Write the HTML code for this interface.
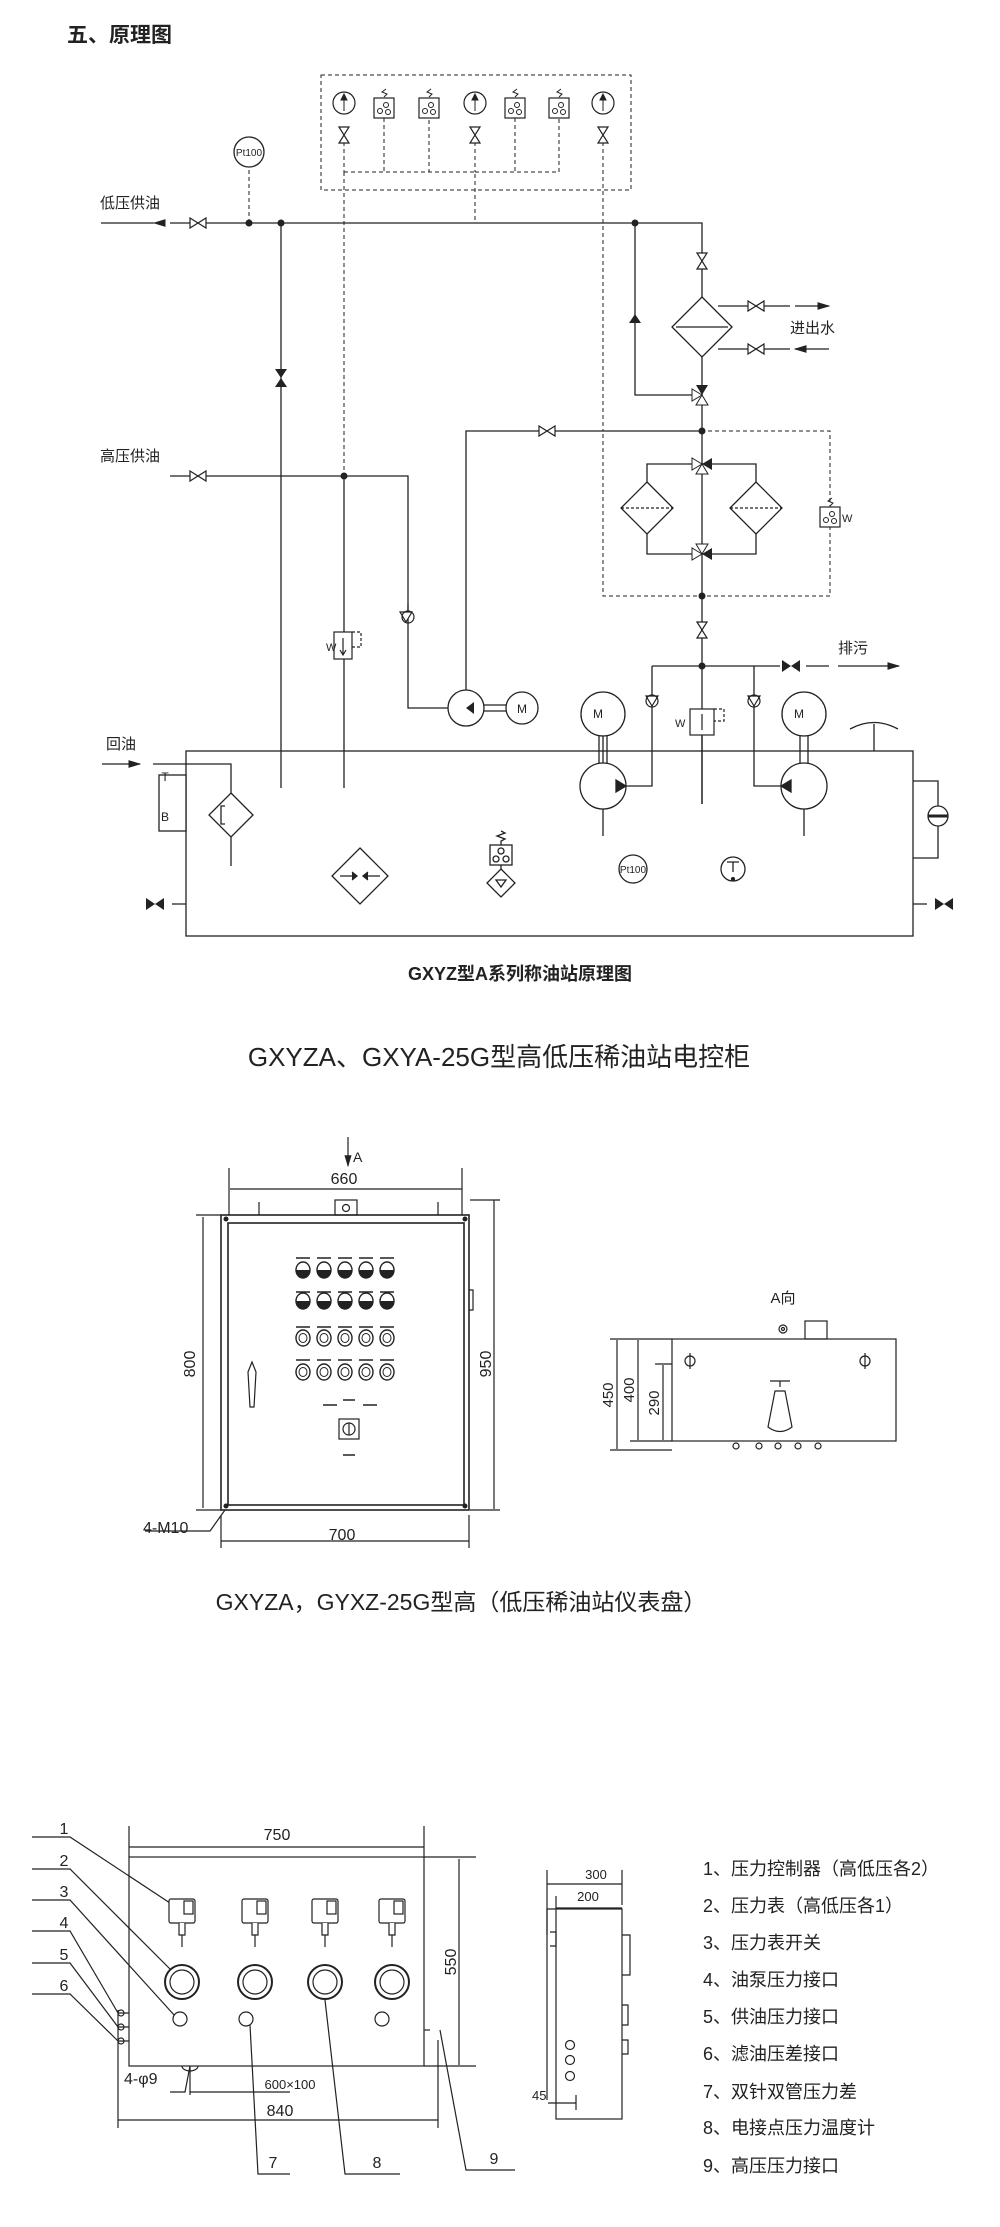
<!DOCTYPE html>
<html><head><meta charset="utf-8"><style>
html,body{margin:0;padding:0;background:#fff}
svg{display:block}
text{font-family:"Liberation Sans","Noto Sans CJK SC",sans-serif;fill:#222}
</style></head><body>
<svg width="1000" height="2227" viewBox="0 0 1000 2227" xmlns="http://www.w3.org/2000/svg">
<defs>
<marker id="ar" markerWidth="10" markerHeight="6" refX="9" refY="3" orient="auto"><path d="M0,0 L10,3 L0,6 Z" fill="#222"/></marker>
<g id="valve"><path d="M-8,-5 L8,5 L8,-5 L-8,5 Z" fill="#fff" stroke="#222" stroke-width="1.2"/></g>
<g id="vvalve"><path d="M-5,-8 L5,8 L-5,8 L5,-8 Z" fill="#fff" stroke="#222" stroke-width="1.2"/></g>
<g id="bvalve"><path d="M-9,-6 L9,6 L9,-6 L-9,6 Z" fill="#222"/></g>
<g id="gauge"><circle r="11" fill="#fff" stroke="#222" stroke-width="1.2"/><path d="M0,8 V-8 M-3,-3 L0,-9 L3,-3Z" stroke="#222" fill="#222"/></g>
<g id="psw"><rect x="-10" y="-10" width="20" height="20" fill="#fff" stroke="#222" stroke-width="1.2"/><circle cx="-4" cy="3" r="2.5" fill="none" stroke="#222"/><circle cx="4" cy="4" r="2.5" fill="none" stroke="#222"/><circle cx="2" cy="-3" r="2.5" fill="none" stroke="#222"/><path d="M0,-11 l3,-3 l-5,-2 l4,-3" fill="none" stroke="#222"/></g>
<g id="light"><ellipse rx="7" ry="8" fill="#fff" stroke="#222" stroke-width="1.4"/><path d="M-7,0 A7,8 0 0 0 7,0 Z" fill="#222"/></g>
<g id="ring"><ellipse rx="7" ry="8" fill="#fff" stroke="#222" stroke-width="1.4"/><ellipse rx="4" ry="4.5" fill="none" stroke="#222"/></g>
</defs>
<g stroke="#222" stroke-width="1.3" fill="none">
<rect x="321" y="75" width="310" height="115" stroke-dasharray="4,3" stroke-width="1"/>
<path d="M344,142 V172 M384,118 V172 H429 V118 M475,142 V172 M515,118 V172 H559 V118 M603,142 V172 M344,172 H475 V223 M475,172 H559" stroke-dasharray="4,3" stroke-width="1"/>
<path d="M344,172 V476 M603,142 V431" stroke-dasharray="4,3" stroke-width="1"/>
<path d="M249,163 V223" stroke-dasharray="4,3" stroke-width="1"/>
<path d="M170,223 H702 V804" />
<path d="M102,223 H155" marker-start="url(#ar)" transform="rotate(180 128 223)"/>
<path d="M281,223 V788"/>
<path d="M635,223 V395 H702"/>
<path d="M702,297 L732,327 L702,357 L672,327 Z" fill="#fff"/>
<path d="M676,327 H728"/>
<path d="M718,306 H790 M718,349 H790"/>
<path d="M795,306 H829" marker-end="url(#ar)"/>
<path d="M829,349 H795" marker-end="url(#ar)"/>
<path d="M170,476 H408 V708 H448"/>
<path d="M344,476 V788"/>
<path d="M466,708 V431 H702"/>
<circle cx="466" cy="708" r="18" fill="#fff"/>
<path d="M484,705 H506 M484,711 H506"/>
<circle cx="522" cy="708" r="16" fill="#fff"/>
<rect x="603" y="431" width="227" height="165" stroke-dasharray="4,3" stroke-width="1"/>
<path d="M647,464 H756 V554 H647 Z"/>
<path d="M647,482 L673,508 L647,534 L621,508 Z" fill="#fff"/><path d="M621,508 H673" stroke-dasharray="3,2"/>
<path d="M756,482 L782,508 L756,534 L730,508 Z" fill="#fff"/><path d="M730,508 H782" stroke-dasharray="3,2"/>
<path d="M652,666 H780 M652,666 V786 H626"/>
<path d="M754,666 V786 H781"/>
<path d="M806,666 H829"/>
<path d="M838,666 H899" marker-end="url(#ar)"/>
<rect x="186" y="751" width="727" height="185"/>
<circle cx="603" cy="786" r="23" fill="#fff"/><path d="M603,809 V836 M603,763 V736"/>
<circle cx="603" cy="714" r="22" fill="#fff"/><path d="M599,736 V763 M607,736 V763"/>
<circle cx="804" cy="786" r="23" fill="#fff"/><path d="M804,809 V836"/>
<circle cx="804" cy="714" r="22" fill="#fff"/><path d="M800,736 V763 M808,736 V763"/>
<path d="M626,786 l-10,-6 v12 Z M781,786 l10,-6 v12 Z" fill="#222"/>
<path d="M702,736 V804"/>
<path d="M102,764 H140" marker-end="url(#ar)"/>
<path d="M153,764 H231 V793"/>
<path d="M231,793 L253,815 L231,837 L209,815 Z" fill="#fff"/><path d="M225,806 h-4 v18 h4" /><path d="M231,837 V866"/>
<rect x="159" y="775" width="27" height="56" fill="#fff"/>
<path d="M360,848 L388,876 L360,904 L332,876 Z"/><path d="M340,876 h14 M380,876 h-14"/><path d="M352,872 l5,4 l-5,4 M368,872 l-5,4 l5,4" fill="#222"/>
<rect x="490" y="845" width="22" height="20" fill="#fff"/><circle cx="501" cy="851" r="3"/><circle cx="496" cy="859" r="3"/><circle cx="506" cy="859" r="3"/>
<path d="M501,845 v-4 l4,-2 l-8,-3 l8,-3 l-4,-2"/>
<path d="M501,865 v4 M501,869 L515,883 L501,897 L487,883 Z"/><path d="M496,880 h10 l-5,7 Z" />
<circle cx="633" cy="869" r="14"/>
<circle cx="733" cy="869" r="12"/><path d="M727,862 h12 M733,862 v10"/><circle cx="733" cy="879" r="1.5" fill="#222"/>
<path d="M186,904 H172 M913,904 H927"/>
<path d="M913,781 H938 V858 H913"/><circle cx="938" cy="816" r="10" fill="#fff"/><path d="M928,816 H948" stroke-width="3"/>
<path d="M874,724 V751 M850,729 Q874,716 898,729"/>
<circle cx="249" cy="152" r="15" fill="#fff"/>
</g>
<use href="#valve" x="198" y="223"/><use href="#valve" x="198" y="476"/><use href="#valve" x="547" y="431"/>
<use href="#valve" x="756" y="306"/><use href="#valve" x="756" y="349"/>
<use href="#vvalve" x="344" y="135"/><use href="#vvalve" x="475" y="135"/><use href="#vvalve" x="603" y="135"/>
<use href="#vvalve" x="702" y="261"/><use href="#vvalve" x="702" y="630"/>
<use href="#gauge" x="344" y="103"/><use href="#gauge" x="475" y="103"/><use href="#gauge" x="603" y="103"/>
<use href="#psw" x="384" y="108"/><use href="#psw" x="429" y="108"/><use href="#psw" x="515" y="108"/><use href="#psw" x="559" y="108"/>
<use href="#psw" x="830" y="517"/>
<use href="#bvalve" x="791" y="666"/>
<use href="#bvalve" x="155" y="904"/><use href="#bvalve" x="944" y="904"/>
<g fill="#222">
<path d="M281,378 l-6,-9 h12 Z M281,378 l-6,9 h12 Z"/>
<path d="M635,314 l-6,9 h12 Z M629,323 h12"/>
<path d="M702,395 l-6,-10 h12Z" /><path d="M702,395 l-6,10 h12Z" fill="#fff" stroke="#222"/><path d="M702,395 l-10,-6 v12Z" fill="#fff" stroke="#222"/>
<path d="M702,464 l-10,-6 v12Z" fill="#fff" stroke="#222"/><path d="M702,464 l10,-6 v12Z"/><path d="M702,464 l-6,10 h12Z" fill="#fff" stroke="#222"/>
<path d="M702,554 l-10,-6 v12Z" fill="#fff" stroke="#222"/><path d="M702,554 l10,-6 v12Z"/><path d="M702,554 l-6,-10 h12Z" fill="#fff" stroke="#222"/>
<circle cx="249" cy="223" r="3.5"/><circle cx="281" cy="223" r="3.5"/><circle cx="635" cy="223" r="3.5"/>
<circle cx="344" cy="476" r="3.5"/><circle cx="702" cy="431" r="3.5"/><circle cx="702" cy="596" r="3.5"/><circle cx="702" cy="666" r="3.5"/>
<path d="M466,708 l8,-6 v12Z"/>
</g>
<g stroke="#222" stroke-width="1.2" fill="#fff">
<path d="M400,612 l6,10 l6,-10 Z M408,604 V612"/><circle cx="408" cy="617" r="6" fill="none"/>
<path d="M646,696 l6,10 l6,-10 Z"/><circle cx="652" cy="701" r="6" fill="none"/>
<path d="M748,696 l6,10 l6,-10 Z"/><circle cx="754" cy="701" r="6" fill="none"/>
<rect x="334" y="632" width="18" height="27"/><path d="M343,638 V654 M340,650 l3,5 l3,-5"/><path d="M352,632 h9 v15 h-9" stroke-dasharray="3,2" fill="none"/>
<rect x="690" y="709" width="24" height="26"/><path d="M702,714 V730"/><path d="M714,709 h10 v12 h-10" stroke-dasharray="3,2" fill="none"/>
</g>
<text x="249" y="156" font-size="10" text-anchor="middle">Pt100</text>
<text x="633" y="873" font-size="10" text-anchor="middle">Pt100</text>
<text x="165" y="781" font-size="12" text-anchor="middle">T</text><text x="165" y="821" font-size="12" text-anchor="middle">B</text>
<text x="326" y="651" font-size="11">W</text><text x="675" y="727" font-size="11">W</text><text x="842" y="522" font-size="11">W</text>
<text x="598" y="718" font-size="12" text-anchor="middle">M</text><text x="799" y="718" font-size="12" text-anchor="middle">M</text><text x="522" y="713" font-size="12" text-anchor="middle">M</text>
<text x="67" y="42" font-size="21" font-weight="bold">五、原理图</text>
<text x="100" y="208" font-size="15">低压供油</text>
<text x="100" y="461" font-size="15">高压供油</text>
<text x="106" y="749" font-size="15">回油</text>
<text x="790" y="333" font-size="15">进出水</text>
<text x="838" y="653" font-size="15">排污</text>
<text x="520" y="980" font-size="18" font-weight="bold" text-anchor="middle">GXYZ型A系列称油站原理图</text>

<!-- cabinet -->
<text x="499" y="1066" font-size="26" text-anchor="middle">GXYZA、GXYA-25G型高低压稀油站电控柜</text>
<g stroke="#222" stroke-width="1.2" fill="none">
<rect x="221" y="1215" width="248" height="295" stroke-width="1.6"/>
<rect x="228" y="1223" width="236" height="282" stroke-width="1.6"/>
<rect x="335" y="1200" width="22" height="15"/><circle cx="346" cy="1208" r="3.5"/>
<path d="M259,1215 v-13 M438,1215 v-13"/>
<path d="M348,1137 V1166" marker-end="url(#ar)"/>
<path d="M230,1189 H462 M229,1168 V1215 M462,1168 V1215" />
<path d="M203,1217 V1508 M196,1215 H221 M196,1510 H221"/>
<path d="M494,1200 V1509 M470,1200 H500 M470,1510 H500"/>
<path d="M221,1541 H469 M221,1515 V1548 M469,1515 V1548"/>
<path d="M145,1531 H210 L225,1510"/>
<path d="M469,1290 h4 v20 h-4"/>
<path d="M248,1372 l4,-10 l4,10 l-2,35 h-4 Z"/>
<rect x="339" y="1419" width="20" height="20"/><circle cx="349" cy="1429" r="6"/><path d="M349,1423 V1435"/>
</g>
<g fill="#222">
<circle cx="226" cy="1219" r="2.5"/><circle cx="465" cy="1219" r="2.5"/><circle cx="226" cy="1506" r="2.5"/><circle cx="465" cy="1506" r="2.5"/>
</g>
<g stroke="#222" stroke-width="1.5" fill="none">
<path d="M296,1258 h14 M317,1258 h14 M338,1258 h14 M359,1258 h14 M380,1258 h14"/>
<path d="M296,1292 h14 M317,1292 h14 M338,1292 h14 M359,1292 h14 M380,1292 h14"/>
<path d="M296,1327 h14 M317,1327 h14 M338,1327 h14 M359,1327 h14 M380,1327 h14"/>
<path d="M296,1360 h14 M317,1360 h14 M338,1360 h14 M359,1360 h14 M380,1360 h14"/>
<path d="M323,1405 h14 M343,1400 h12 M363,1405 h14 M343,1455 h12"/>
</g>
<use href="#light" x="303" y="1270"/><use href="#light" x="324" y="1270"/><use href="#light" x="345" y="1270"/><use href="#light" x="366" y="1270"/><use href="#light" x="387" y="1270"/>
<use href="#light" x="303" y="1301"/><use href="#light" x="324" y="1301"/><use href="#light" x="345" y="1301"/><use href="#light" x="366" y="1301"/><use href="#light" x="387" y="1301"/>
<use href="#ring" x="303" y="1338"/><use href="#ring" x="324" y="1338"/><use href="#ring" x="345" y="1338"/><use href="#ring" x="366" y="1338"/><use href="#ring" x="387" y="1338"/>
<use href="#ring" x="303" y="1372"/><use href="#ring" x="324" y="1372"/><use href="#ring" x="345" y="1372"/><use href="#ring" x="366" y="1372"/><use href="#ring" x="387" y="1372"/>
<text x="353" y="1162" font-size="14">A</text>
<text x="344" y="1184" font-size="16" text-anchor="middle">660</text>
<text x="342" y="1540" font-size="16" text-anchor="middle">700</text>
<text x="143" y="1533" font-size="16">4-M10</text>
<text x="0" y="0" font-size="16" transform="translate(195 1364) rotate(-90)" text-anchor="middle">800</text>
<text x="0" y="0" font-size="16" transform="translate(491 1364) rotate(-90)" text-anchor="middle">950</text>
<!-- A view -->
<g stroke="#222" stroke-width="1.2" fill="none">
<rect x="672" y="1339" width="224" height="102"/>
<rect x="805" y="1321" width="22" height="18"/><circle cx="783" cy="1329" r="4"/><circle cx="783" cy="1329" r="1.5"/>
<path d="M617,1340 V1449 M610,1339 H672 M610,1450 H672"/>
<path d="M638,1340 V1440 M630,1441 H672"/>
<path d="M663,1365 V1440 M655,1364 H672"/>
<circle cx="690" cy="1361" r="5"/><path d="M690,1353 V1369"/><circle cx="865" cy="1361" r="5"/><path d="M865,1353 V1369"/>
<path d="M770,1381 H790 M780,1381 V1387 M775,1391 L785,1391 L792,1427 Q780,1436 768,1427 Z"/>
<circle cx="736" cy="1446" r="3"/><circle cx="759" cy="1446" r="3"/><circle cx="778" cy="1446" r="3"/><circle cx="798" cy="1446" r="3"/><circle cx="818" cy="1446" r="3"/>
</g>
<text x="783" y="1303" font-size="15" text-anchor="middle">A向</text>
<text font-size="15" transform="translate(613 1395) rotate(-90)" text-anchor="middle">450</text>
<text font-size="15" transform="translate(634 1390) rotate(-90)" text-anchor="middle">400</text>
<text font-size="15" transform="translate(659 1403) rotate(-90)" text-anchor="middle">290</text>
<text x="461" y="1610" font-size="23" text-anchor="middle">GXYZA，GYXZ-25G型高（低压稀油站仪表盘）</text>
<!-- instrument panel -->
<g stroke="#222" stroke-width="1.2" fill="none">
<rect x="129" y="1857" width="295" height="209"/>
<path d="M129,1847 H424 M129,1826 V1857 M424,1826 V1857"/>
<path d="M459,1859 V2065 M424,1857 H476 M424,2066 H476"/>
<path d="M118,2120 H438 M118,2010 V2128 M438,2040 V2128"/>
<path d="M190,2092 H290 M190,2066 V2095"/>
<path d="M170,2092 H185 L190,2066"/>
<path d="M182,2066 a8,5 0 0 0 16,0"/>
<path d="M32,1837 H70 L173,1905 M32,1869 H70 L175,1974 M32,1900 H70 L175,2016 M32,1931 H70 L118,2013 M32,1963 H70 L118,2027 M32,1994 H70 L118,2041"/>
<path d="M250,2025 L258,2174 H290 M325,2000 L345,2174 H400 M440,2030 L466,2170 H515"/>
<path d="M118,2013 h11 M118,2027 h11 M118,2041 h11"/>
<circle cx="121" cy="2013" r="3"/><circle cx="121" cy="2027" r="3"/><circle cx="121" cy="2041" r="3"/>
<path d="M424,2030 h6"/>
<!-- side view -->
<rect x="556" y="1909" width="66" height="210"/>
<path d="M547,1884 H622 M547,1870 V1935 M622,1870 V1905"/>
<path d="M556,1908 H622 M556,1896 V1909"/>
<path d="M556,1909 H547 V2100"/>
<path d="M548,2103 H576 M576,2095 V2110"/>
<path d="M550,1932 h6 v14 h-6"/>
<path d="M622,1935 h8 v40 h-8 M622,2005 h6 v20 h-6 M622,2040 h6 v14 h-6"/>
<circle cx="570" cy="2045" r="4.5"/><circle cx="570" cy="2060" r="4.5"/><circle cx="570" cy="2076" r="4.5"/>
</g>
<g stroke="#222" stroke-width="1.2" fill="#fff">
<g transform="translate(182 1912)"><rect x="-13" y="-13" width="26" height="24" rx="2"/><rect x="2" y="-11" width="9" height="13"/><path d="M-3,11 v12 h6 v-12 M0,23 v12"/></g>
<g transform="translate(255 1912)"><rect x="-13" y="-13" width="26" height="24" rx="2"/><rect x="2" y="-11" width="9" height="13"/><path d="M-3,11 v12 h6 v-12 M0,23 v12"/></g>
<g transform="translate(325 1912)"><rect x="-13" y="-13" width="26" height="24" rx="2"/><rect x="2" y="-11" width="9" height="13"/><path d="M-3,11 v12 h6 v-12 M0,23 v12"/></g>
<g transform="translate(392 1912)"><rect x="-13" y="-13" width="26" height="24" rx="2"/><rect x="2" y="-11" width="9" height="13"/><path d="M-3,11 v12 h6 v-12 M0,23 v12"/></g>
<circle cx="182" cy="1982" r="17" stroke-width="2"/><circle cx="182" cy="1982" r="12"/>
<circle cx="255" cy="1982" r="17" stroke-width="2"/><circle cx="255" cy="1982" r="12"/>
<circle cx="325" cy="1982" r="17" stroke-width="2"/><circle cx="325" cy="1982" r="12"/>
<circle cx="392" cy="1982" r="17" stroke-width="2"/><circle cx="392" cy="1982" r="12"/>
<circle cx="180" cy="2019" r="7"/><circle cx="246" cy="2019" r="7"/><circle cx="382" cy="2019" r="7"/>
</g>
<g font-size="16">
<text x="277" y="1840" text-anchor="middle">750</text>
<text transform="translate(456 1962) rotate(-90)" text-anchor="middle">550</text>
<text x="280" y="2116" text-anchor="middle">840</text>
<text x="290" y="2089" text-anchor="middle" font-size="13">600×100</text>
<text x="124" y="2084">4-φ9</text>
<text x="64" y="1834" text-anchor="middle">1</text><text x="64" y="1866" text-anchor="middle">2</text><text x="64" y="1897" text-anchor="middle">3</text>
<text x="64" y="1928" text-anchor="middle">4</text><text x="64" y="1960" text-anchor="middle">5</text><text x="64" y="1991" text-anchor="middle">6</text>
<text x="273" y="2168" text-anchor="middle">7</text><text x="377" y="2168" text-anchor="middle">8</text><text x="494" y="2164" text-anchor="middle">9</text>
<text x="596" y="1879" text-anchor="middle" font-size="13">300</text>
<text x="588" y="1901" text-anchor="middle" font-size="13">200</text>
<text x="532" y="2100" font-size="13">45</text>
</g>
<g font-size="18">
<text x="703" y="1875">1、压力控制器（高低压各2）</text>
<text x="703" y="1912">2、压力表（高低压各1）</text>
<text x="703" y="1949">3、压力表开关</text>
<text x="703" y="1986">4、油泵压力接口</text>
<text x="703" y="2023">5、供油压力接口</text>
<text x="703" y="2060">6、滤油压差接口</text>
<text x="703" y="2098">7、双针双管压力差</text>
<text x="703" y="2134">8、电接点压力温度计</text>
<text x="703" y="2172">9、高压压力接口</text>
</g>
</svg>
</body></html>
